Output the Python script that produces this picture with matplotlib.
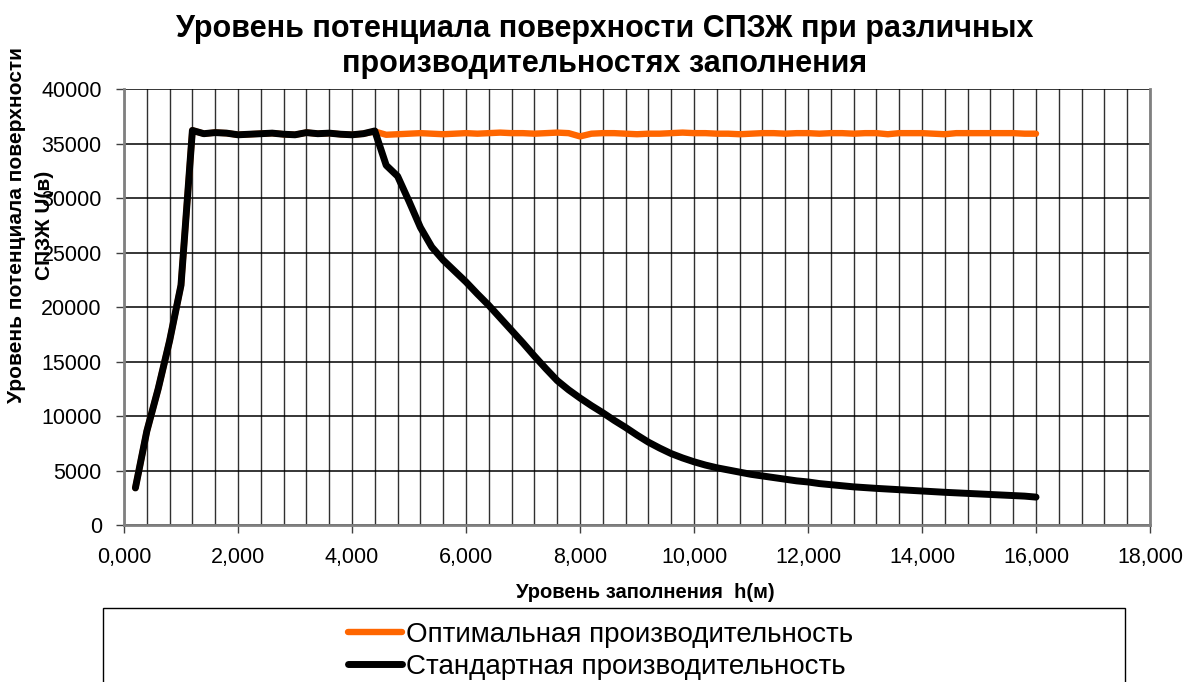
import matplotlib
matplotlib.use("Agg")
import matplotlib.pyplot as plt
from matplotlib.patches import Rectangle
from matplotlib.ticker import MultipleLocator, FuncFormatter

plt.rcParams['font.family'] = ['Liberation Sans', 'DejaVu Sans']

# filling level h, m (step 0.2)
h_level = [round(0.2 * i, 1) for i in range(1, 81)]

# standard filling rate, surface potential U, V
u_standard = [
    3400, 8600, 12500, 16900, 22000, 36200, 35900, 36000, 35950, 35800,
    35850, 35900, 35950, 35850, 35800, 36000, 35900, 35950, 35850, 35800,
    35900, 36150, 33000, 32000, 29700, 27300, 25500, 24300, 23300, 22300,
    21200, 20150, 19000, 17850, 16700, 15500, 14350, 13250, 12400, 11650,
    10950, 10300, 9600, 8950, 8250, 7600, 7050, 6550, 6150, 5800,
    5500, 5250, 5050, 4850, 4650, 4500, 4350, 4200, 4050, 3950,
    3800, 3700, 3600, 3500, 3430, 3360, 3300, 3240, 3180, 3120,
    3060, 3000, 2950, 2900, 2850, 2800, 2750, 2700, 2650, 2560,
]

# optimal filling rate
u_optimal = [
    3400, 8600, 12500, 16900, 22000, 36200, 35900, 36000, 35950, 35800,
    35850, 35900, 35950, 35850, 35800, 36000, 35900, 35950, 35850, 35800,
    35900, 36100, 35800, 35850, 35900, 35950, 35900, 35850, 35900, 35950,
    35900, 35950, 36000, 35950, 35950, 35900, 35950, 36000, 35950, 35650,
    35900, 35950, 35950, 35900, 35850, 35900, 35900, 35950, 36000, 35950,
    35950, 35900, 35900, 35850, 35900, 35950, 35950, 35900, 35950, 35950,
    35900, 35950, 35950, 35900, 35950, 35950, 35850, 35950, 35950, 35950,
    35900, 35850, 35950, 35950, 35950, 35950, 35950, 35950, 35900, 35900,
]

title = "Уровень потенциала поверхности СПЗЖ при различных\nпроизводительностях заполнения"
x_label = "Уровень заполнения  h(м)"
y_label_lines = ["Уровень потенциала поверхности", "СПЗЖ U(в)"]
series_names = ["Оптимальная производительность", "Стандартная производительность"]

fig = plt.figure(figsize=(11.9, 6.82), dpi=100)
ax = fig.add_axes([0.1042, 0.2302, 0.8622, 0.6393])

l1, = ax.plot(h_level, u_optimal, color="#FF6600", lw=4.6,
              solid_capstyle="round", solid_joinstyle="round", zorder=3)
l2, = ax.plot(h_level, u_standard, color="black", lw=5.0,
              solid_capstyle="round", solid_joinstyle="round", zorder=4)

ax.set_xlim(0, 18)
ax.set_ylim(0, 40000)
ax.xaxis.set_major_locator(MultipleLocator(2))
ax.xaxis.set_minor_locator(MultipleLocator(0.4))
ax.yaxis.set_major_locator(MultipleLocator(5000))
ax.xaxis.set_major_formatter(FuncFormatter(lambda v, p: f"{v:.3f}".replace(".", ",")))
ax.yaxis.set_major_formatter(FuncFormatter(lambda v, p: f"{int(v)}"))

ax.grid(True, which="both", axis="x", color="#303030", lw=1.0)
ax.grid(True, which="major", axis="y", color="black", lw=1.1)
ax.set_axisbelow(True)

ax.tick_params(axis="both", which="major", labelsize=15.5, direction="out",
               length=6, width=1, color="#404040", pad=10)
ax.tick_params(axis="x", which="minor", length=0)

for side in ("left", "bottom", "right"):
    ax.spines[side].set_color("#808080")
    ax.spines[side].set_linewidth(2)
ax.spines["top"].set_visible(False)

fig.text(0.508, 0.932, title, ha="center", va="center", fontsize=22,
         fontweight="bold", linespacing=1.2)
fig.text(0.542, 0.1305, x_label, ha="center", va="center", fontsize=14.5,
         fontweight="bold")
# y label is two separate lines, the second sits over the tick labels
fig.text(17 / 1190, 0.67, y_label_lines[0], ha="center", va="center",
         rotation=90, fontsize=15, fontweight="bold")
fig.text(44 / 1190, 0.67, y_label_lines[1], ha="center", va="center",
         rotation=90, fontsize=15, fontweight="bold")

# legend frame runs off the bottom edge
fig.add_artist(Rectangle((103 / 1190, -0.05), 1022 / 1190, 0.05 + 1 - 608 / 682,
                         transform=fig.transFigure, fill=False, ec="black",
                         lw=1, clip_on=False))
fig.legend([l1, l2], series_names, loc="upper left",
           bbox_to_anchor=(331 / 1190, 1 - 605 / 682), frameon=False,
           fontsize=20, handlelength=1.95, handletextpad=0.15,
           labelspacing=0.22, borderpad=0.1)

fig.savefig("out.png", dpi=100)
